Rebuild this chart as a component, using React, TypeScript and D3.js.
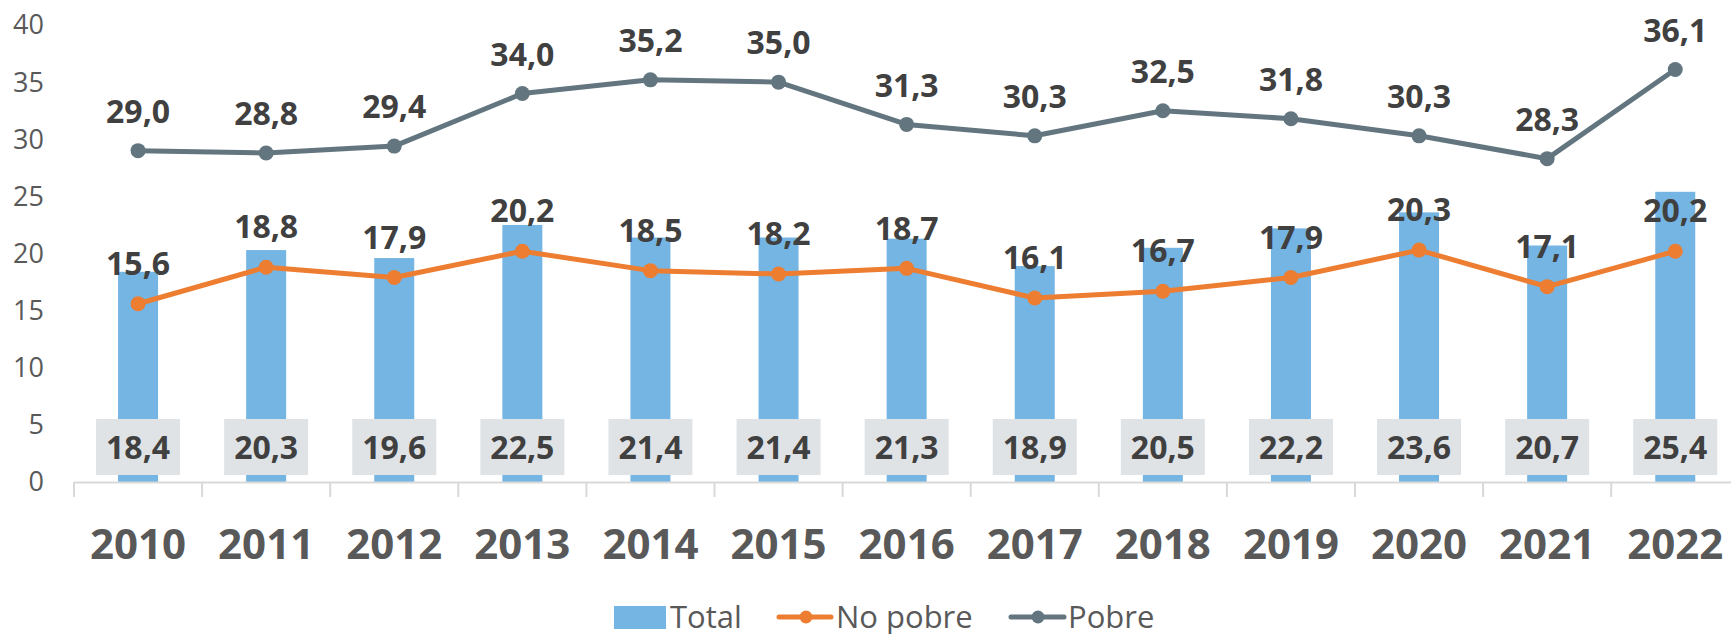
import * as d3 from 'd3';

const years = ['2010', '2011', '2012', '2013', '2014', '2015', '2016', '2017', '2018', '2019', '2020', '2021', '2022'];
const total = [18.4, 20.3, 19.6, 22.5, 21.4, 21.4, 21.3, 18.9, 20.5, 22.2, 23.6, 20.7, 25.4];
const noPobre = [15.6, 18.8, 17.9, 20.2, 18.5, 18.2, 18.7, 16.1, 16.7, 17.9, 20.3, 17.1, 20.2];
const pobre = [29.0, 28.8, 29.4, 34.0, 35.2, 35.0, 31.3, 30.3, 32.5, 31.8, 30.3, 28.3, 36.1];
const yTicks = [0, 5, 10, 15, 20, 25, 30, 35, 40];

const W = 1731;
const H = 634;
const FONT = '"Open Sans", "DejaVu Sans", sans-serif';
const BAR = '#75b5e3';
const ORANGE = '#ed7d31';
const SLATE = '#637680';
const LABEL = '#404040';
const AXIS_TXT = '#595959';

const fmt = (v: number) => v.toFixed(1).replace('.', ',');

export default function App() {
  const x = d3.scaleBand<string>().domain(years).range([74, 74 + 128.1 * years.length]);
  const y = d3.scaleLinear().domain([0, 40]).range([482, 25]);
  const bw = x.bandwidth();
  const cx = (i: number) => (x(years[i]) as number) + bw / 2;

  const line = d3.line<number>().x((_, i) => cx(i)).y(d => y(d));

  return (
    <svg width={W} height={H} style={{ position: 'absolute', left: 0, top: 0, background: '#fff' }} fontFamily={FONT}>
      {/* y axis labels */}
      {yTicks.map(t => (
        <text key={t} x={44} y={y(t)} dy="0.35em" textAnchor="end" fontSize={27} fill={AXIS_TXT}>{t}</text>
      ))}

      {/* bars */}
      {total.map((v, i) => (
        <rect key={i} x={cx(i) - 20} y={y(v)} width={40} height={y(0) - y(v)} fill={BAR} />
      ))}

      {/* x axis */}
      <line x1={74} x2={W} y1={482.5} y2={482.5} stroke="#d9d9d9" strokeWidth={2} />
      {years.map(yr => (
        <line key={yr} x1={(x(yr) as number)} x2={(x(yr) as number)} y1={482} y2={497} stroke="#d9d9d9" strokeWidth={2} />
      ))}
      {years.map((yr, i) => (
        <text key={yr} x={cx(i)} y={544} dy="0.35em" textAnchor="middle" fontSize={42} fontWeight="bold" fill={AXIS_TXT}>{yr}</text>
      ))}

      {/* total labels in boxes */}
      {total.map((v, i) => (
        <g key={i}>
          <rect x={cx(i) - 42} y={419} width={84} height={56} fill="#dfe3e6" />
          <text x={cx(i)} y={448} dy="0.35em" textAnchor="middle" fontSize={32} fontWeight="bold" fill={LABEL}>{fmt(v)}</text>
        </g>
      ))}

      {/* lines */}
      <path d={line(noPobre) as string} fill="none" stroke={ORANGE} strokeWidth={5} strokeLinejoin="round" />
      {noPobre.map((v, i) => <circle key={i} cx={cx(i)} cy={y(v)} r={7.5} fill={ORANGE} />)}
      <path d={line(pobre) as string} fill="none" stroke={SLATE} strokeWidth={5} strokeLinejoin="round" />
      {pobre.map((v, i) => <circle key={i} cx={cx(i)} cy={y(v)} r={7.5} fill={SLATE} />)}

      {noPobre.map((v, i) => (
        <text key={i} x={cx(i)} y={y(v) - 40} dy="0.35em" textAnchor="middle" fontSize={32} fontWeight="bold" fill={LABEL}>{fmt(v)}</text>
      ))}
      {pobre.map((v, i) => (
        <text key={i} x={cx(i)} y={y(v) - 39} dy="0.35em" textAnchor="middle" fontSize={32} fontWeight="bold" fill={LABEL}>{fmt(v)}</text>
      ))}

      {/* legend */}
      <g fontSize={31} fill={AXIS_TXT}>
        <rect x={614} y={606} width={52} height={23} fill={BAR} />
        <text x={670} y={617} dy="0.35em">Total</text>
        <line x1={779} x2={831} y1={617} y2={617} stroke={ORANGE} strokeWidth={5} strokeLinecap="round" />
        <circle cx={806} cy={617} r={6.5} fill={ORANGE} />
        <text x={836} y={617} dy="0.35em">No pobre</text>
        <line x1={1011} x2={1064} y1={617} y2={617} stroke={SLATE} strokeWidth={5} strokeLinecap="round" />
        <circle cx={1038} cy={617} r={6.5} fill={SLATE} />
        <text x={1068} y={617} dy="0.35em">Pobre</text>
      </g>
    </svg>
  );
}
